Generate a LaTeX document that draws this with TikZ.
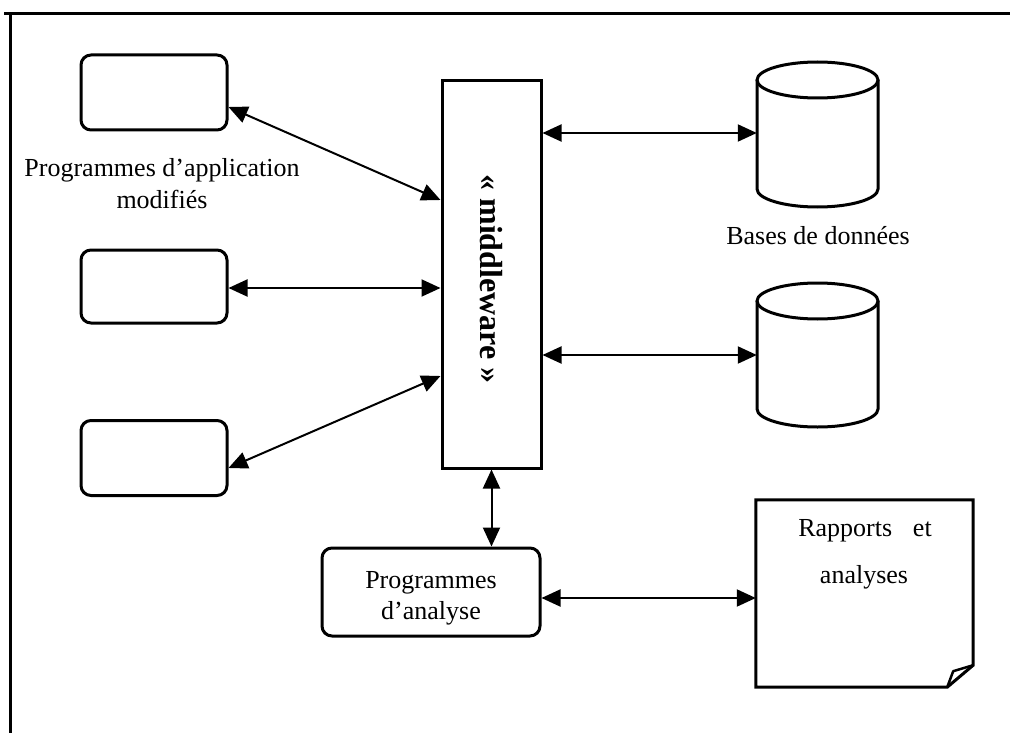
\documentclass[tikz,border=0pt]{standalone}
\usepackage{fontspec}
\setmainfont{Liberation Serif}
\usetikzlibrary{arrows.meta,calc}
\begin{document}
\begin{tikzpicture}[x=1pt,y=-1pt,
  box/.style={draw, line width=3pt, rounded corners=10pt, inner sep=0pt},
  plainbox/.style={draw, line width=3pt, inner sep=0pt},
  anchorbox/.style={inner sep=0pt},
  link/.style={line width=2pt, {Triangle[length=19pt,width=17pt]}-{Triangle[length=19pt,width=17pt]}},
  lbl/.style={font=\fontsize{26}{31}\selectfont, inner sep=0pt},
  shapeline/.style={line width=3pt},
  frameline/.style={line width=3pt}]
\useasboundingbox (0,0) rectangle (1010,733);
% frame
\draw[frameline] (4,14) -- (1010,14);
\draw[frameline] (10,14) -- (10,733);

% application boxes
\node[box, minimum width=146pt, minimum height=75pt] (box1) at (154,92.5) {};
\node[box, minimum width=146pt, minimum height=73pt] (box2) at (154,286.5) {};
\node[box, minimum width=146pt, minimum height=75pt] (box3) at (154,458) {};
\node[lbl, anchor=base] (lab1a) at (162,177) {Programmes d’application};
\node[lbl, anchor=base] (lab1b) at (162,208) {modifiés};

% middleware
\node[plainbox, minimum width=99pt, minimum height=387pt] (mw) at (491.5,274.5) {};
\node[rotate=-90, font=\bfseries\fontsize{32}{38}\selectfont, inner sep=0pt] (mwtxt) at (491.5,279) {« middleware »};

% databases
\node[anchorbox, minimum width=121pt, minimum height=145pt] (db1) at (817.5,134.5) {};
\node[anchorbox, minimum width=121pt, minimum height=144pt] (db2) at (817.5,355) {};
\draw[shapeline] (757,80) -- (757,189) arc[start angle=180, end angle=360, x radius=60.5pt, y radius=18pt] -- (878,80);
\draw[shapeline] (817.5,80) ellipse [x radius=60.5pt, y radius=18pt];
\draw[shapeline] (757,301) -- (757,409) arc[start angle=180, end angle=360, x radius=60.5pt, y radius=18pt] -- (878,301);
\draw[shapeline] (817.5,301) ellipse [x radius=60.5pt, y radius=18pt];
\node[lbl] (dblab) at (818,236) {Bases de données};

% analysis programs
\node[box, minimum width=218pt, minimum height=88pt] (ana) at (431,592) {};
\node[lbl, anchor=base] (analab1) at (431,588) {Programmes};
\node[lbl, anchor=base] (analab2) at (431,619) {d’analyse};

% document
\node[anchorbox, minimum width=217pt, minimum height=187pt] (doc) at (864.5,593.5) {};
\draw[shapeline, line join=miter] (doc.north west) -- (doc.north east) -- ($(doc.south east)+(0,-22)$) -- ($(doc.south east)+(-26,0)$) -- (doc.south west) -- cycle;
\draw[line width=2.5pt, line join=round] ($(doc.south east)+(-26,0)$) -- ($(doc.south east)+(-20,-16)$) -- ($(doc.south east)+(0,-22)$);
\node[lbl, anchor=base] (doclab1) at (865,536) {Rapports\hspace{0.8em}et};
\node[lbl, anchor=base] (doclab2) at (864,583) {analyses};

% connectors
\draw[link] ($(box1.east)+(0,14.5)$) -- ($(mw.west)+(0,-74.5)$);
\draw[link] ($(box2.east)+(0,1.5)$) -- ($(mw.west)+(0,13.5)$);
\draw[link] ($(box3.east)+(0,10)$) -- ($(mw.west)+(0,101.5)$);
\coordinate (d1) at ($(db1.west)+(0,-1.5)$);
\draw[link] (mw.east |- d1) -- (d1);
\draw[link] (mw.east |- db2.west) -- (db2.west);
\draw[link] (mw.south) -- (mw.south |- ana.north);
\coordinate (d7) at ($(doc.west)+(0,4.5)$);
\draw[link] (ana.east |- d7) -- (d7);
\end{tikzpicture}
\end{document}
